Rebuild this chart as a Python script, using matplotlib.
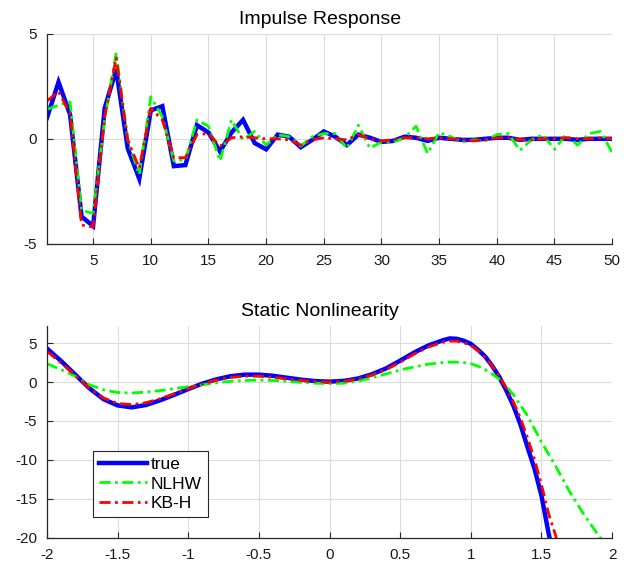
import numpy as np
import matplotlib
matplotlib.use("Agg")
import matplotlib.pyplot as plt

plt.rcParams['font.family'] = ['Liberation Sans', 'DejaVu Sans']
plt.rcParams['axes.unicode_minus'] = False

# --- impulse response (lags 1..50) ---
lags = np.arange(1, 51)
ir_true = [1.0, 2.7, 1.15, -3.7, -4.15, 1.45, 3.3, -0.45, -1.9, 1.35,
           1.55, -1.3, -1.25, 0.65, 0.3, -0.6, 0.3, 0.9, -0.2, -0.5,
           0.2, 0.1, -0.4, -0.05, 0.35, 0.1, -0.3, 0.2, 0.05, -0.15,
           -0.1, 0.1, 0.05, -0.1, 0.05, 0.0, -0.05, -0.05, 0.0, 0.05,
           0.05, -0.05, 0.0, 0.0, 0.0, 0.0, -0.05, 0.0, 0.0, 0.0]
ir_nlhw = [1.4, 1.6, 1.75, -3.4, -3.55, 0.9, 4.1, -0.05, -1.7, 2.0,
           1.05, -1.05, -1.0, 0.9, 0.6, -1.05, 0.9, -0.05, 0.35, -0.3,
           0.2, 0.1, -0.35, 0.1, 0.25, 0.25, -0.45, 0.65, -0.45, -0.15,
           -0.15, 0.05, 0.6, -0.7, 0.3, 0.1, -0.15, -0.05, -0.1, 0.2,
           0.25, -0.55, -0.05, 0.2, -0.5, 0.2, -0.3, 0.25, 0.35, -0.65]
ir_kbh = [1.8, 2.25, 1.2, -4.1, -4.2, 1.05, 3.85, -0.05, -1.4, 1.45,
          0.9, -0.9, -0.9, 0.2, 0.25, -0.35, 0.05, 0.1, 0.05, 0.0,
          0.0, -0.05, -0.3, -0.05, 0.05, 0.0, -0.05, 0.2, 0.0, -0.1,
          -0.05, 0.05, 0.05, 0.0, 0.05, 0.0, -0.05, -0.1, -0.05, 0.05,
          0.05, -0.05, -0.05, 0.0, 0.0, 0.05, 0.0, 0.0, 0.05, 0.0]

# --- static nonlinearity ---
u_true = [-2.0, -1.9, -1.8, -1.7, -1.6, -1.5, -1.4, -1.3, -1.2, -1.1,
          -1.0, -0.9, -0.8, -0.7, -0.6, -0.5, -0.4, -0.3, -0.2, -0.1,
          0.0, 0.1, 0.2, 0.3, 0.4, 0.5, 0.6, 0.7, 0.8, 0.85, 0.9, 0.95,
          1.0, 1.05, 1.1, 1.15, 1.2, 1.25, 1.3, 1.35, 1.4, 1.45, 1.5, 1.55, 1.6]
f_true = [4.3, 2.7, 0.95, -0.8, -2.2, -3.0, -3.25, -2.95, -2.35, -1.65,
          -0.9, -0.2, 0.35, 0.75, 0.95, 0.95, 0.8, 0.55, 0.3, 0.12,
          0.05, 0.15, 0.45, 1.0, 1.75, 2.75, 3.8, 4.7, 5.35, 5.6, 5.55, 5.3,
          4.9, 4.15, 3.3, 2.1, 0.7, -1.05, -3.0, -5.4, -8.3, -11.1, -14.6, -19.4, -23.5]
u_kbh = [-2.0, -1.9, -1.8, -1.7, -1.6, -1.5, -1.4, -1.3, -1.2, -1.1,
         -1.0, -0.9, -0.8, -0.7, -0.6, -0.5, -0.4, -0.3, -0.2, -0.1,
         0.0, 0.1, 0.2, 0.3, 0.4, 0.5, 0.6, 0.7, 0.8, 0.85, 0.9, 0.95,
         1.0, 1.05, 1.1, 1.15, 1.2, 1.25, 1.3, 1.35, 1.4, 1.45, 1.5, 1.55, 1.6, 1.65]
f_kbh = [3.95, 2.45, 0.85, -0.8, -2.05, -2.75, -2.9, -2.65, -2.15, -1.5,
         -0.85, -0.25, 0.25, 0.6, 0.75, 0.75, 0.6, 0.4, 0.2, 0.05,
         0.0, 0.1, 0.4, 0.9, 1.6, 2.55, 3.6, 4.5, 5.1, 5.25, 5.25, 5.05,
         4.7, 4.05, 3.2, 2.1, 0.8, -0.75, -2.5, -4.6, -7.1, -9.9, -13.2, -16.9, -19.7, -24.0]
u_nlhw = [-2.0, -1.9, -1.8, -1.7, -1.6, -1.5, -1.4, -1.3, -1.2, -1.1,
          -1.0, -0.9, -0.8, -0.7, -0.6, -0.5, -0.4, -0.3, -0.2, -0.1,
          0.0, 0.1, 0.2, 0.3, 0.4, 0.5, 0.6, 0.7, 0.8, 0.85, 0.9, 0.95,
          1.0, 1.05, 1.1, 1.15, 1.2, 1.25, 1.3, 1.4, 1.5, 1.6, 1.7, 1.8, 1.9, 2.0]
f_nlhw = [2.35, 1.6, 0.75, -0.35, -1.0, -1.35, -1.4, -1.3, -1.1, -0.85,
          -0.6, -0.35, -0.1, 0.1, 0.2, 0.25, 0.2, 0.1, -0.05, -0.15,
          -0.2, -0.15, 0.1, 0.55, 1.05, 1.55, 1.95, 2.3, 2.5, 2.55, 2.55, 2.5,
          2.35, 2.05, 1.6, 1.05, 0.4, -0.5, -1.6, -4.3, -7.7, -10.8, -14.1, -17.0, -19.6, -22.0]

DASHDOT = (4, 1.6, 1, 1.6)


def style_axes(ax):
    ax.grid(True, color='#dcdcdc', lw=0.8)
    ax.set_axisbelow(True)
    for s in ('top', 'right'):
        ax.spines[s].set_visible(False)
    for s in ('left', 'bottom'):
        ax.spines[s].set_color('#262626')
        ax.spines[s].set_linewidth(0.9)
    ax.tick_params(direction='in', length=4, width=0.8, colors='#262626',
                   labelsize=11, labelcolor='#1a1a1a')
    ax.tick_params(axis='x', pad=7)
    ax.tick_params(axis='y', pad=7)


fig = plt.figure(figsize=(6.35, 5.62), dpi=100)
ax1 = fig.add_axes([0.074, 0.566, 0.890, 0.374])
ax2 = fig.add_axes([0.074, 0.043, 0.890, 0.377])

ax1.plot(lags, ir_true, color='#0000ff', lw=3.2, solid_joinstyle='miter')
ax1.plot(lags, ir_nlhw, color='#00ff00', lw=2.0, dashes=DASHDOT)
ax1.plot(lags, ir_kbh, color='#ff0000', lw=2.0, dashes=DASHDOT)
ax1.set_xlim(1, 50)
ax1.set_ylim(-5, 5)
ax1.set_xticks(np.arange(5, 51, 5))
ax1.set_yticks([-5, 0, 5])
ax1.set_title('Impulse Response', fontsize=14, pad=7, x=0.483)
style_axes(ax1)

ax2.plot(u_true, f_true, color='#0000ff', lw=3.2, label='true')
ax2.plot(u_nlhw, f_nlhw, color='#00ff00', lw=2.0, dashes=DASHDOT, label='NLHW')
ax2.plot(u_kbh, f_kbh, color='#ff0000', lw=2.0, dashes=DASHDOT, label='KB-H')
ax2.set_xlim(-2, 2)
ax2.set_ylim(-20, 7.2)
xt = np.arange(-2, 2.01, 0.5)
ax2.set_xticks(xt)
ax2.set_xticklabels(['%g' % v for v in xt])
ax2.set_yticks([-20, -15, -10, -5, 0, 5])
ax2.set_title('Static Nonlinearity', fontsize=14, pad=7, x=0.483)
style_axes(ax2)
leg = ax2.legend(loc='lower left', bbox_to_anchor=(0.082, 0.098),
                 borderaxespad=0, fontsize=12.5, handlelength=2.75,
                 handletextpad=0.2, labelspacing=0.25, borderpad=0.35,
                 fancybox=False, framealpha=1, edgecolor='#262626')
leg.get_frame().set_linewidth(0.8)

fig.savefig('out.png', dpi=100)
